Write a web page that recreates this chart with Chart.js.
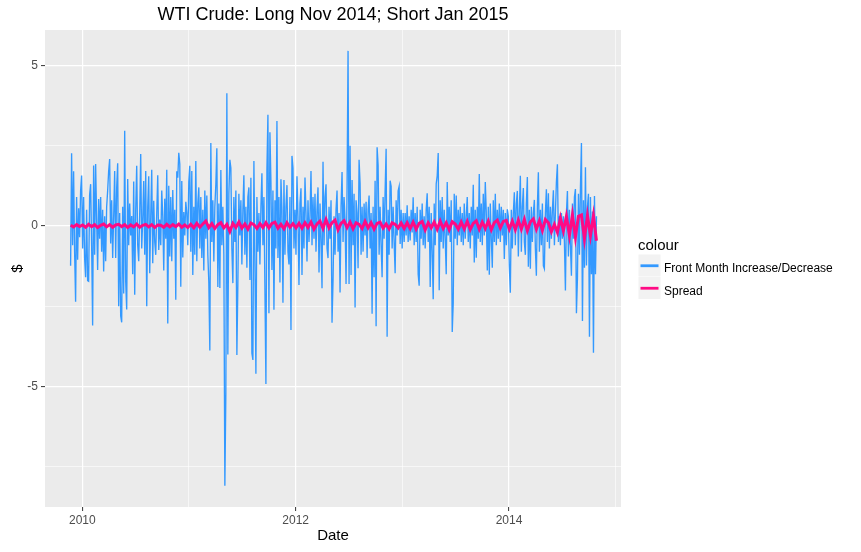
<!DOCTYPE html>
<html>
<head>
<meta charset="utf-8">
<title>WTI Crude: Long Nov 2014; Short Jan 2015</title>
<script src="https://cdn.jsdelivr.net/npm/chart.js@4.4.1/dist/chart.umd.min.js"></script>
<style>
  html, body { margin: 0; padding: 0; background: #ffffff; }
</style>
</head>
<body>
<canvas id="wti" width="861" height="552"></canvas>
<script>
/*
    wti spread chart

    daily change of the front month (Nov 2014 contract) and the
    Nov 2014 / Jan 2015 spread, late 2009 to Oct 2014
*/

// first and last trading day on the chart, as decimal years
const dateRange = [2009.89, 2014.82];

// front month increase/decrease, $ per day
const change2009 = [-1.24, 2.26, -0.6, 1.7, -0.8, -2.36, 0.9, -1.05, 0.55, -0.35, 1.1];
const change2010 = [
    1.57, -0.7, 0.9, -1.0, -1.6, 0.5, -1.7, -1.72, 0.97, 1.3,
    -0.6, -3.1, 1.88, -0.9, 1.93, 0.2, -1.37, 0.84, -0.4, 0.9,
    -0.8, 0.5, -1.42, 0.3, -1.1, 0.6, 1.1, 1.71, 2.08, -0.55,
    0.8, -1.0, 0.3, 1.71, -1.0, 1.2, 1.95, -2.5, 0.4, -2.8,
    -3.0, 0.6, -2.1, 2.96, -1.73, -2.6, 1.46, -0.6, 0.7, -0.3,
    0.31, -1.5, 1.38, -2.14, 0.5, 1.87, -0.6, -1.1, 0.4, 2.24,
    -0.7, 0.2, 1.4, -0.9, 1.71, -2.5, 0.6, 1.55, -1.47, 0.3,
    1.75, -1.16, 0.78, -0.5, -0.9, 0.4, 1.58, -0.75, 0.2, -0.6,
    1.1, 0.3, -1.39, 0.85, -0.4, 1.75, -3.04, 1.25, -0.95, 0.9,
    -1.1, 1.12, -0.4, 0.5, -2.3, 1.7, 1.5, 2.28, 1.93, -1.89,
    1.4, -0.98, 0.43, -0.3, 0.75, 0.4, -0.6
];
const change2011 = [
    1.37, 1.87, -0.8, 1.71, -1.53, 0.6, -0.9, 2.02, -1.1, 0.7,
    1.2, -0.7, 0.9, -1.0, 0.5, -1.39, 1.1, -0.4, 0.95, -0.9,
    -1.76, -3.88, 2.58, -0.5, 0.8, -1.11, 0.6, 1.3, 2.42, -1.9,
    0.7, -1.93, 1.74, -0.6, 0.6, -0.9, -8.09, -5.2, 4.13, -4.0,
    1.0, 2.06, 1.8, -0.7, -1.78, 0.9, -0.5, 1.1, -4.02, -1.8,
    1.0, -0.3, 0.8, -1.2, 0.5, 1.58, -0.9, 0.6, -1.3, 0.9,
    1.2, -1.68, 1.5, -3.96, -4.17, 2.02, -1.1, -4.6, 0.9, -0.8,
    0.4, -1.2, 0.6, 1.64, -0.6, 0.9, -1.96, -4.92, 1.74, 3.46,
    -2.72, 2.92, 1.38, -1.37, 1.1, -2.61, 0.8, -0.7, 3.27, -1.0,
    0.9, -1.76, 1.45, 0.5, -2.39, 1.43, -0.9, 0.6, 1.27, -0.8,
    -1.2, 0.9, -3.24, 2.18, 1.8, -0.7, 0.5
];
const change2012 = [
    -0.9, 1.55, 0.3, -1.84, 0.7, 1.17, -1.53, 0.6, -0.7, 1.51,
    0.4, -1.11, 0.8, -0.5, 0.3, 1.71, -0.6, 0.9, -0.4, 1.0,
    -0.8, 0.5, 1.2, -1.45, 0.7, -0.5, -1.94, 2.0, -0.6, 0.9,
    1.3, -0.7, -1.0, 0.6, -0.4, 0.8, -3.01, -1.7, 0.3, -0.9,
    0.5, 1.1, -0.8, 0.4, -2.07, 0.6, 1.68, -0.5, 0.9, 0.2,
    -1.81, 1.2, 5.45, -1.81, 2.5, -1.53, 1.43, -0.6, 1.0, -2.54,
    0.8, 0.4, -1.32, 2.06, 1.33, -0.9, 0.6, -0.8, 0.7, -0.3,
    0.75, -1.0, 0.5, 0.95, -0.7, 0.4, -2.73, 0.6, -1.6, 1.41,
    -3.12, 2.45, 1.9, -0.9, 0.6, -0.6, -1.6, 0.9, -0.4, 1.1,
    2.4, -3.45, 0.5, -0.9, 1.41, 1.23, -0.7, 0.6, -0.5, -1.47,
    0.8, -0.3, 1.09, 1.23, -0.56, 0.5, -0.7, 0.4
];
const change2013 = [
    -0.5, 0.4, -0.3, 0.64, -0.5, 0.3, -0.45, 0.5, -0.2, 0.89,
    -0.6, 0.4, -0.5, 0.6, -1.5, -1.86, 0.5, -0.4, 0.7, -0.6,
    0.3, -0.7, 0.5, 1.02, -0.5, 0.6, -1.9, 0.4, -0.8, -2.28,
    0.7, -0.6, 1.31, 1.56, 2.27, -2.0, 0.8, -0.5, 0.9, -0.7,
    0.5, -0.4, -1.5, 1.37, -0.3, 0.6, -0.5, 0.8, -3.3, -2.39,
    1.0, -0.4, 0.95, -0.6, 0.5, -0.3, 0.6, -0.5, 0.4, -0.6,
    0.7, -0.4, 0.3, 0.9, -0.5, 0.4, -0.7, 0.6, -0.3, 1.28,
    -1.14, 0.5, -0.99, 0.6, -0.4, 1.62, -0.5, 0.7, -0.6, 1.0,
    -0.3, 1.37, 0.4, -1.39, 0.6, -1.52, 0.7, -0.4, -1.3, 0.8,
    -0.5, 1.0, -0.6, 0.5, -0.4, 0.7, -0.5, 0.6, -0.3, 0.5,
    -1.03, 0.4, -0.6, 0.52, 0.3, -1.24
];
const change2014 = [
    -2.08, 0.5, -0.7, 0.4, 1.05, -0.6, 0.7, 1.09, -0.95, 0.5,
    1.56, -0.8, 0.6, 1.18, -0.5, -0.9, 0.7, 1.52, -1.27, 0.5,
    -1.33, 0.6, -0.5, 0.4, 0.81, -0.7, -1.55, 0.6, 1.67, -0.8,
    0.5, -0.6, 0.7, -1.24, -1.33, 0.4, 1.14, -0.5, 1.02, -0.7,
    0.6, -0.4, 0.5, 1.11, -0.6, 0.4, 1.36, 1.92, -0.5, 0.3,
    -0.6, 0.4, -0.4, 0.3, -0.5, -2.01, 0.4, 1.09, -0.95, 0.5,
    -0.6, -1.55, 0.7, -0.4, 0.9, 1.15, -2.72, -1.64, 1.0, -0.9,
    1.17, 2.58, -2.96, 0.8, -1.3, 1.83, -1.23, 0.6, 1.0, -3.45,
    0.9, -1.5, 0.45, -3.95, 0.93, -1.5, 0.3
];

// Nov14 - Jan15 spread, $ (sampled about every third trading day)
const spread2009 = [0.02, -0.03, 0.04, -0.02];
const spread2010 = [
    0.03, -0.04, 0.05, -0.02, 0.04, -0.05, 0.02, 0.06, -0.03, 0.04,
    -0.04, 0.03, 0.05, -0.02, 0.04, -0.05, 0.03, -0.03, 0.06, -0.04,
    0.02, 0.05, -0.03, 0.04, -0.05, 0.03, 0.02, -0.04, 0.05, -0.03,
    0.04, -0.02, 0.06, -0.04, 0.03, -0.05
];
const spread2011 = [
    0.05, -0.06, 0.08, -0.04, 0.06, 0.15, -0.05, 0.07, -0.08, 0.04,
    0.1, -0.06, 0.05, -0.17, 0.08, -0.05, 0.12, -0.07, 0.06, -0.1,
    0.09, 0.04, -0.08, 0.07, -0.05, 0.1, -0.06, 0.08, 0.12, -0.07,
    0.05, -0.09, 0.1, -0.04, 0.07, -0.06
];
const spread2012 = [
    0.08, -0.07, 0.1, -0.05, 0.12, -0.1, 0.06, 0.15, -0.08, 0.2,
    -0.06, 0.1, 0.18, -0.12, 0.08, 0.16, -0.05, 0.12, -0.09, 0.1,
    0.05, -0.08, 0.14, -0.06, 0.1, -0.1, 0.08, 0.12, -0.07, 0.06,
    -0.09, 0.1, 0.05, -0.06, 0.09, -0.08
];
const spread2013 = [
    0.1, -0.08, 0.12, -0.1, 0.08, 0.14, -0.12, 0.1, -0.06, 0.12,
    -0.1, 0.15, -0.08, 0.1, -0.12, 0.13, 0.06, -0.1, 0.12, -0.09,
    0.14, -0.11, 0.08, 0.16, -0.1, 0.12, -0.08, 0.15, -0.12, 0.1,
    0.18, -0.06, 0.14, 0.17, -0.1
];
const spread2014 = [
    0.15, -0.12, 0.18, -0.1, 0.2, -0.15, 0.12, 0.22, -0.1, 0.16,
    -0.14, 0.2, 0.1, -0.18, 0.05, -0.2, 0.25, -0.15, 0.3, -0.3,
    0.34, -0.35, 0.3, 0.34, -0.4, 0.33, -0.3, 0.32, -0.46
];

// axis ticks: labelled majors, unlabelled minors in between
const yTickStep = 2.5;
const yLabelEvery = 5;
const xTickStep = 1;
const xTickLabels = ['2010', '2012', '2014'];

const seriesNames = ['Front Month Increase/Decrease', 'Spread'];
const seriesColors = ['#3399ff', '#ff0a84'];

const FONT = '"Liberation Sans", Arial, Helvetica, sans-serif';

/*
    toPoints

    spreads a run of daily values evenly over dateRange
*/
function toPoints(values) {
    const step = (dateRange[1] - dateRange[0]) / (values.length - 1);
    return values.map((v, i) => ({ x: dateRange[0] + i * step, y: v }));
}

const frontChange = [].concat(change2009, change2010, change2011, change2012, change2013, change2014);
const spread = [].concat(spread2009, spread2010, spread2011, spread2012, spread2013, spread2014);

// grey panel behind the grid, like ggplot
const panelBackground = {
    id: 'panelBackground',
    beforeDraw(chart) {
        const { ctx, chartArea: a } = chart;
        ctx.save();
        ctx.fillStyle = '#ebebeb';
        ctx.fillRect(a.left, a.top, a.right - a.left, a.bottom - a.top);
        ctx.restore();
    }
};

// ggplot style legend ("colour" title, grey key boxes)
const ggLegend = {
    id: 'ggLegend',
    afterDraw(chart) {
        const ctx = chart.ctx;
        const left = chart.chartArea.right + 17.5;
        const keySize = 22.5;
        const keyTop = 254.5;
        ctx.save();
        ctx.fillStyle = '#000000';
        ctx.font = '15px ' + FONT;
        ctx.textBaseline = 'alphabetic';
        ctx.fillText('colour', left - 0.5, 249.5);
        seriesNames.forEach((name, i) => {
            const top = keyTop + i * keySize;
            ctx.fillStyle = '#f2f2f2';
            ctx.fillRect(left, top, keySize - 0.5, keySize - 0.5);
            ctx.strokeStyle = seriesColors[i];
            ctx.lineWidth = 2.8;
            ctx.beginPath();
            ctx.moveTo(left + 2, top + keySize / 2);
            ctx.lineTo(left + keySize - 2.5, top + keySize / 2);
            ctx.stroke();
            ctx.fillStyle = '#000000';
            ctx.font = '12px ' + FONT;
            ctx.fillText(name, left + 25.5, top + 17.5);
        });
        ctx.restore();
    }
};

const isMajor = (v, every) => Math.abs(v / every - Math.round(v / every)) < 1e-6;

const chart = new Chart('wti', {
    type: 'line',
    data: {
        datasets: [{
            label: seriesNames[0],
            data: toPoints(frontChange),
            borderColor: seriesColors[0],
            borderWidth: 1.35,
            pointRadius: 0,
            tension: 0,
            fill: false,
            order: 1
        }, {
            // drawn over the blue so the thin band near zero still shows
            label: seriesNames[1],
            data: toPoints(spread),
            borderColor: seriesColors[1],
            borderWidth: 3,
            pointRadius: 0,
            tension: 0,
            fill: false,
            order: 0
        }]
    },
    options: {
        responsive: false,
        animation: false,
        devicePixelRatio: 1,
        layout: { padding: { left: 0, right: 240, top: 0, bottom: 0 } },
        plugins: {
            legend: { display: false },
            tooltip: { enabled: false },
            title: {
                display: true,
                fullSize: false,
                text: 'WTI Crude: Long Nov 2014; Short Jan 2015',
                color: '#000000',
                font: { family: FONT, size: 18, weight: 'normal', lineHeight: 1.2 },
                padding: { top: 4.4, bottom: 4 }
            }
        },
        scales: {
            x: {
                type: 'linear',
                min: 2009.65,
                max: 2015.05,
                border: { display: false },
                grid: {
                    color: '#ffffff',
                    lineWidth: ctx => isMajor(ctx.tick.value, 2) ? 1.2 : 0.6,
                    tickLength: 4,
                    tickColor: ctx => isMajor(ctx.tick.value, 2) ? '#333333' : 'rgba(0,0,0,0)',
                    tickWidth: 1
                },
                ticks: {
                    stepSize: xTickStep,
                    includeBounds: false,
                    autoSkip: false,
                    maxRotation: 0,
                    padding: 2,
                    color: '#4d4d4d',
                    font: { family: FONT, size: 12 },
                    callback: v => xTickLabels.includes(String(Math.round(v))) ? String(Math.round(v)) : ''
                },
                title: {
                    display: true,
                    text: 'Date',
                    color: '#000000',
                    font: { family: FONT, size: 15 },
                    padding: { top: 0, bottom: 7 }
                },
                afterFit: scale => { scale.height = 45; }
            },
            y: {
                min: -8.75,
                max: 6.1,
                border: { display: false },
                grid: {
                    color: '#ffffff',
                    lineWidth: ctx => isMajor(ctx.tick.value, yLabelEvery) ? 1.2 : 0.6,
                    tickLength: 4,
                    tickColor: ctx => isMajor(ctx.tick.value, yLabelEvery) ? '#333333' : 'rgba(0,0,0,0)',
                    tickWidth: 1
                },
                ticks: {
                    stepSize: yTickStep,
                    includeBounds: false,
                    padding: 3,
                    color: '#4d4d4d',
                    font: { family: FONT, size: 12 },
                    callback: v => isMajor(v, yLabelEvery) ? String(Math.round(v)) : ''
                },
                title: {
                    display: true,
                    text: '$',
                    color: '#000000',
                    font: { family: FONT, size: 15 },
                    padding: { top: 9.3, bottom: 0 }
                },
                afterFit: scale => { scale.width = 45; }
            }
        }
    },
    plugins: [panelBackground, ggLegend]
});
</script>
</body>
</html>
